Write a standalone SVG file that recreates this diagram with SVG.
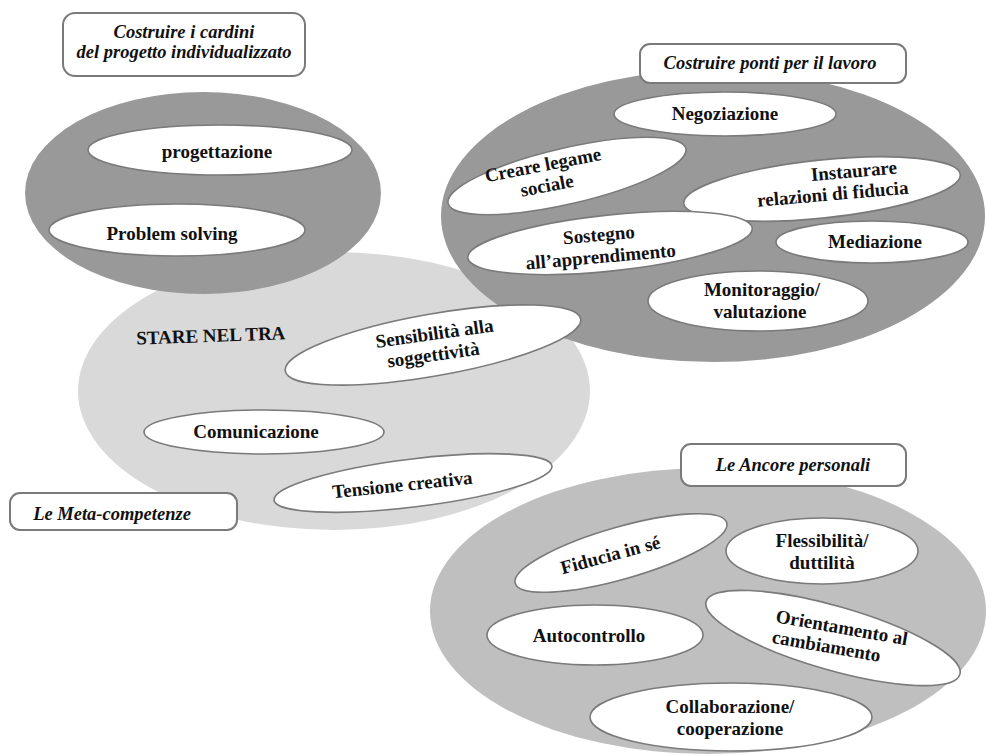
<svg xmlns="http://www.w3.org/2000/svg" width="986" height="756" viewBox="0 0 986 756">
<style>
.big{stroke:none}
.in{fill:#fff;stroke:#7a7a7a;stroke-width:1.6}
.box{fill:#fff;stroke:#7a7a7a;stroke-width:2}
.t{font-family:'Liberation Serif','DejaVu Serif',serif;font-weight:bold;font-size:19px;fill:#111;text-anchor:middle}
.ti{font-family:'Liberation Serif','DejaVu Serif',serif;font-weight:bold;font-style:italic;font-size:18.5px;fill:#111;text-anchor:middle}
</style>
<rect width="986" height="756" fill="#fff"/>
<g id="meta-bg">
<ellipse class="big" cx="334" cy="391" rx="256" ry="139" fill="#d9d9d9"/>
</g>
<g id="cardini-bg">
<ellipse class="big" cx="203" cy="193" rx="178" ry="101" fill="#999"/>
</g>
<g id="ponti-bg">
<ellipse class="big" cx="713" cy="216" rx="272" ry="146" fill="#999"/>
</g>
<g id="ancore-bg">
<ellipse class="big" cx="708" cy="611" rx="278" ry="143" fill="#bfbfbf"/>
</g>

<g id="progettazione">
<ellipse class="in" cx="220" cy="150" rx="132" ry="25"/>
<text class="t" x="217" y="158" font-family="Liberation Serif, serif">progettazione</text>
</g>
<g id="problem-solving">
<ellipse class="in" cx="177" cy="230" rx="128" ry="26"/>
<text class="t" x="172" y="240" font-family="Liberation Serif, serif">Problem solving</text>
</g>

<g id="stare-nel-tra">
<text class="t" x="211" y="342" transform="rotate(-2 211 342)" font-family="Liberation Serif, serif">STARE NEL TRA</text>
</g>
<g id="sensibilita">
<ellipse class="in" cx="433" cy="345" rx="150" ry="31" transform="rotate(-10 433 345)"/>
<text class="t" transform="rotate(-8 433 345)" font-family="Liberation Serif, serif"><tspan x="436" y="340">Sensibilità alla</tspan><tspan x="432" y="361">soggettività</tspan></text>
</g>
<g id="comunicazione">
<ellipse class="in" cx="264" cy="432" rx="120" ry="22"/>
<text class="t" x="256" y="438" font-family="Liberation Serif, serif">Comunicazione</text>
</g>
<g id="tensione">
<ellipse class="in" cx="413" cy="483" rx="140" ry="24" transform="rotate(-7 413 483)"/>
<text class="t" x="403" y="491" transform="rotate(-6 403 491)" font-family="Liberation Serif, serif">Tensione creativa</text>
</g>

<g id="negoziazione">
<ellipse class="in" cx="725" cy="114" rx="111" ry="22"/>
<text class="t" x="725" y="120" font-family="Liberation Serif, serif">Negoziazione</text>
</g>
<g id="creare">
<ellipse class="in" cx="567" cy="176" rx="122" ry="28" transform="rotate(-13 567 176)"/>
<text class="t" transform="rotate(-11 545 176)" font-family="Liberation Serif, serif"><tspan x="545" y="171">Creare legame</tspan><tspan x="545" y="192">sociale</tspan></text>
</g>
<g id="instaurare">
<ellipse class="in" cx="822" cy="189" rx="139" ry="29" transform="rotate(-6 822 189)"/>
<text class="t" transform="rotate(-5 835 185)" font-family="Liberation Serif, serif"><tspan x="855" y="179">Instaurare</tspan><tspan x="832" y="200">relazioni di fiducia</tspan></text>
</g>
<g id="sostegno">
<ellipse class="in" cx="610" cy="243" rx="143" ry="28" transform="rotate(-6 610 243)"/>
<text class="t" transform="rotate(-5 600 248)" font-family="Liberation Serif, serif"><tspan x="600" y="241">Sostegno</tspan><tspan x="600" y="263">all’apprendimento</tspan></text>
</g>
<g id="mediazione">
<ellipse class="in" cx="872" cy="242" rx="96" ry="21"/>
<text class="t" x="875" y="248" font-family="Liberation Serif, serif">Mediazione</text>
</g>
<g id="monitoraggio">
<ellipse class="in" cx="758" cy="301" rx="110" ry="30"/>
<text class="t" font-family="Liberation Serif, serif"><tspan x="762" y="296">Monitoraggio/</tspan><tspan x="760" y="318">valutazione</tspan></text>
</g>

<g id="fiducia">
<ellipse class="in" cx="621" cy="553" rx="110" ry="26" transform="rotate(-16 621 553)"/>
<text class="t" x="612" y="561" transform="rotate(-15 612 561)" font-family="Liberation Serif, serif">Fiducia in sé</text>
</g>
<g id="flessibilita">
<ellipse class="in" cx="822" cy="551" rx="96" ry="33"/>
<text class="t" font-family="Liberation Serif, serif"><tspan x="822" y="547">Flessibilità/</tspan><tspan x="822" y="569">duttilità</tspan></text>
</g>
<g id="autocontrollo">
<ellipse class="in" cx="595" cy="635" rx="108" ry="30"/>
<text class="t" x="589" y="642" font-family="Liberation Serif, serif">Autocontrollo</text>
</g>
<g id="orientamento">
<ellipse class="in" cx="833" cy="638" rx="132" ry="32" transform="rotate(16 833 638)"/>
<text class="t" transform="rotate(10 836 638)" font-family="Liberation Serif, serif"><tspan x="840" y="633">Orientamento al</tspan><tspan x="828" y="654">cambiamento</tspan></text>
</g>
<g id="collaborazione">
<ellipse class="in" cx="731" cy="717" rx="141" ry="34"/>
<text class="t" font-family="Liberation Serif, serif"><tspan x="730" y="713">Collaborazione/</tspan><tspan x="730" y="735">cooperazione</tspan></text>
</g>

<g id="box-cardini">
<rect class="box" x="63" y="13" width="242" height="63" rx="12"/>
<text class="ti" font-family="Liberation Serif, serif"><tspan x="184" y="38">Costruire i cardini</tspan><tspan x="184" y="58">del progetto individualizzato</tspan></text>
</g>
<g id="box-ponti">
<rect class="box" x="640" y="44" width="266" height="39" rx="10"/>
<text class="ti" x="770" y="69" font-family="Liberation Serif, serif">Costruire ponti per il lavoro</text>
</g>
<g id="box-ancore">
<rect class="box" x="681" y="444" width="225" height="42" rx="10"/>
<text class="ti" x="793" y="471" font-family="Liberation Serif, serif">Le Ancore personali</text>
</g>
<g id="box-meta">
<rect class="box" x="10" y="493" width="227" height="37" rx="10"/>
<text class="ti" x="112" y="520" font-family="Liberation Serif, serif">Le Meta-competenze</text>
</g>
<g id="connectors"/>
</svg>
